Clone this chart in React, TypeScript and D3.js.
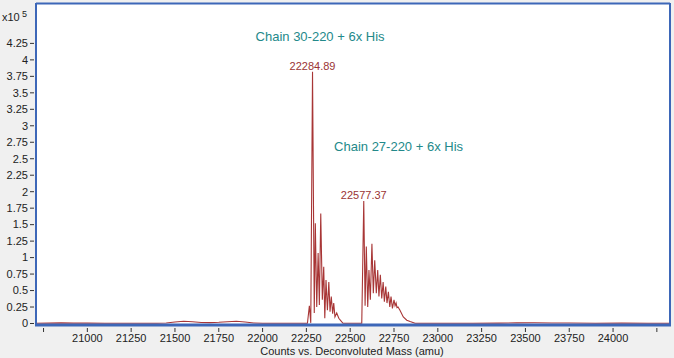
import React from "react";
import * as d3 from "d3";

// Deconvoluted mass spectrum (intensity in units of 1e5 counts)
const masses = [
  20707, 20780, 20850, 20920, 21000, 21100, 21250, 21400, 21450, 21500, 21550, 21600, 21650, 21700,
  21750, 21800, 21850, 21900, 21950, 22000, 22100, 22200, 22256,
  22267, 22275, 22285, 22295, 22301, 22309, 22317, 22324, 22332, 22341, 22349, 22355, 22362, 22370,
  22378, 22385, 22392, 22400, 22406, 22413, 22423, 22435, 22446, 22459,
  22500, 22566,
  22577.4, 22585, 22592, 22600, 22607, 22615, 22624, 22632, 22640, 22649, 22657, 22664, 22672, 22680,
  22688, 22695, 22703, 22710, 22718, 22726, 22733, 22741, 22750, 22756, 22762, 22767, 22773, 22784,
  22803, 22823, 22842, 22870,
  23000, 23200, 23350, 23450, 23550, 23650, 23750, 23900, 24050, 24200, 24325,
];
const intensities = [
  0.004, 0.005, 0.009, 0.005, 0.006, 0.004, 0.004, 0.004, 0.008, 0.022, 0.034, 0.026, 0.015, 0.014,
  0.018, 0.026, 0.034, 0.022, 0.008, 0.003, 0.003, 0.003, 0.003,
  0.27, 0.01, 3.82, 0.16, 1.52, 0.25, 1.07, 0.28, 1.67, 0.36, 0.86, 0.08, 0.66, 0.2,
  0.63, 0.18, 0.41, 0.15, 0.31, 0.1, 0.16, 0.08, 0.045, 0.004,
  0.003, 0.003,
  1.86, 0.27, 1.17, 0.25, 0.81, 0.36, 1.21, 0.46, 0.96, 0.46, 0.81, 0.41, 0.74, 0.38,
  0.63, 0.33, 0.56, 0.31, 0.48, 0.25, 0.41, 0.23, 0.36, 0.27, 0.31, 0.24, 0.25, 0.2,
  0.1, 0.05, 0.03, 0.004,
  0.004, 0.004, 0.005, 0.009, 0.011, 0.008, 0.008, 0.004, 0.005, 0.004, 0.004,
];

const xTicks = [20750, 21000, 21250, 21500, 21750, 22000, 22250, 22500, 22750, 23000, 23250, 23500, 23750, 24000, 24250];
const xTickLabels = ["", "21000", "21250", "21500", "21750", "22000", "22250", "22500", "22750", "23000", "23250", "23500", "23750", "24000", ""];
const yTicks = [0, 0.25, 0.5, 0.75, 1, 1.25, 1.5, 1.75, 2, 2.25, 2.5, 2.75, 3, 3.25, 3.5, 3.75, 4, 4.25];
const yTickLabels = ["0", "0.25", "0.5", "0.75", "1", "1.25", "1.5", "1.75", "2", "2.25", "2.5", "2.75", "3", "3.25", "3.5", "3.75", "4", "4.25"];

const peakMasses = [22284.89, 22577.37];
const peakValues = [3.82, 1.86];
const peakLabels = ["22284.89", "22577.37"];
const chainLabels = ["Chain 30-220 + 6x His", "Chain 27-220 + 6x His"];
const chainMasses = [22328, 22776];
const chainValues = [4.29, 2.62];

const W = 674, H = 358;
const plot = { left: 36, right: 670, top: 3, bottom: 325 };
const FONT = "'Liberation Sans', Arial, sans-serif";

export default function App() {
  const x = d3.scaleLinear().domain([20707, 24325]).range([plot.left, plot.right]);
  const y = d3.scaleLinear().domain([0, 4.863]).range([323.5, 3]);
  const pts: [number, number][] = masses.map((m, i) => [m, intensities[i]]);
  const line = d3.line<[number, number]>().x(d => x(d[0])).y(d => y(d[1]));

  return (
    <svg width={W} height={H} style={{ position: "absolute", left: 0, top: 0, display: "block" }} fontFamily={FONT}>
      <rect x={0} y={0} width={W} height={H} fill="#f0f0f0" />
      <rect x={plot.left} y={plot.top} width={plot.right - plot.left} height={plot.bottom - plot.top} fill="#ffffff" />
      <defs>
        <clipPath id="pc">
          <rect x={plot.left} y={plot.top} width={plot.right - plot.left} height={plot.bottom - plot.top} />
        </clipPath>
      </defs>
      <path d={line(pts) || ""} fill="none" stroke="#a83636" strokeWidth={1.1} clipPath="url(#pc)" />
      {/* border */}
      <line x1={plot.left} x2={plot.right} y1={plot.top + 0.5} y2={plot.top + 0.5} stroke="#3d67b8" strokeWidth={2} />
      <line x1={plot.left} x2={plot.left} y1={plot.top} y2={plot.bottom + 1} stroke="#3d67b8" strokeWidth={2} />
      <line x1={plot.right} x2={plot.right} y1={plot.top} y2={plot.bottom + 1} stroke="#3d67b8" strokeWidth={2} />
      <line x1={plot.left - 1} x2={plot.right + 1} y1={plot.bottom} y2={plot.bottom} stroke="#3d67b8" strokeWidth={3} />
      {/* y axis */}
      {yTicks.map((t, i) => (
        <g key={"y" + i}>
          <line x1={30} x2={34} y1={y(t)} y2={y(t)} stroke="#333" strokeWidth={1} />
          <text x={28} y={y(t)} dy="0.35em" textAnchor="end" fontSize={11} fill="#222">{yTickLabels[i]}</text>
        </g>
      ))}
      <text x={2} y={21} fontSize={11} fill="#222">x10</text>
      <text x={22} y={17} fontSize={9} fill="#222">5</text>
      {/* x axis */}
      {xTicks.map((t, i) => (
        <g key={"x" + i}>
          <line x1={x(t)} x2={x(t)} y1={328} y2={332} stroke="#333" strokeWidth={1} />
          {xTickLabels[i] && (
            <text x={x(t)} y={342} textAnchor="middle" fontSize={11} fill="#222">{xTickLabels[i]}</text>
          )}
        </g>
      ))}
      <text x={352} y={355} textAnchor="middle" fontSize={11} fill="#222">Counts vs. Deconvoluted Mass (amu)</text>
      {/* annotations */}
      {peakLabels.map((p, i) => (
        <text key={"p" + i} x={x(peakMasses[i])} y={y(peakValues[i]) - 2} textAnchor="middle" fontSize={11} fill="#9a3434">{p}</text>
      ))}
      {chainLabels.map((c, i) => (
        <text key={"c" + i} x={x(chainMasses[i])} y={y(chainValues[i])} textAnchor="middle" fontSize={13} fill="#23898a">{c}</text>
      ))}
    </svg>
  );
}
